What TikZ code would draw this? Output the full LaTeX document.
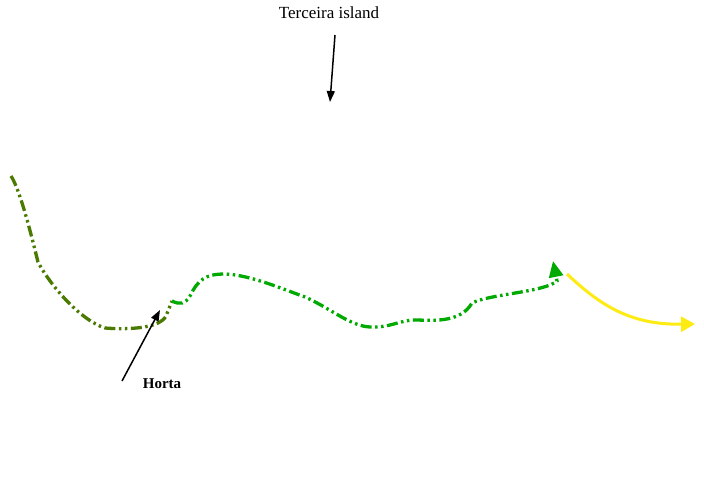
\documentclass[tikz,border=0pt]{standalone}
\usepackage{fontspec}
\setmainfont{Liberation Serif}
\usepackage{tikz}
\usetikzlibrary{calc,arrows.meta}
\definecolor{olivegreen}{RGB}{74,122,0}
\definecolor{brightgreen}{RGB}{0,170,0}
\definecolor{sunyellow}{RGB}{255,235,20}
\tikzset{
  route/.style={line width=3.3pt, dash pattern=on 11pt off 3.5pt on 2.5pt off 3.5pt on 2.5pt off 3.5pt},
  pointer/.style={line width=1.5pt, -{Triangle[length=11pt,width=8pt]}},
}

\begin{document}
\begin{tikzpicture}[x=1pt,y=-1pt]
\useasboundingbox (0,0) rectangle (704,486);
\path (329,13) node[font=\fontsize{17}{19}\selectfont] (terceira) {Terceira island};
\coordinate (t1) at (335,35);
\coordinate (t2) at (330,102);
\draw[pointer] (t1) -- (t2);
% old route to Horta
\draw[route, olivegreen] (11,176) .. controls (20,190) and (30,230) .. (38,262)
  .. controls (50,285) and (80,320) .. (105,328)
  .. controls (130,330) and (160,328) .. (166,316)
  -- (172,301);
% new route from Horta
\draw[route, brightgreen, -{Triangle[length=16pt,width=14pt]}] (172,301)
  .. controls (180,305) and (185,304) .. (190,296)
  .. controls (198,280) and (205,274) .. (225,274)
  .. controls (250,275) and (280,288) .. (305,297)
  .. controls (330,308) and (350,326) .. (370,327)
  .. controls (390,328) and (400,320) .. (415,320)
  .. controls (430,320) and (460,324) .. (472,303)
  .. controls (490,294) and (545,292) .. (557,281)
  -- (553,261);
\coordinate (y1) at (567,274);
\coordinate (y2) at (695,324);
\draw[sunyellow, line width=3pt, -{Triangle[length=14pt,width=15pt]}] (y1) .. controls (600,305) and (630,325) .. (y2);
% Horta
\path (162,384) node[font=\fontsize{15}{17}\selectfont\bfseries] (horta) {Horta};
\coordinate (h1) at (122,381);
\coordinate (h2) at (160,310);
\draw[pointer] (h1) -- (h2);
\end{tikzpicture}
\end{document}
